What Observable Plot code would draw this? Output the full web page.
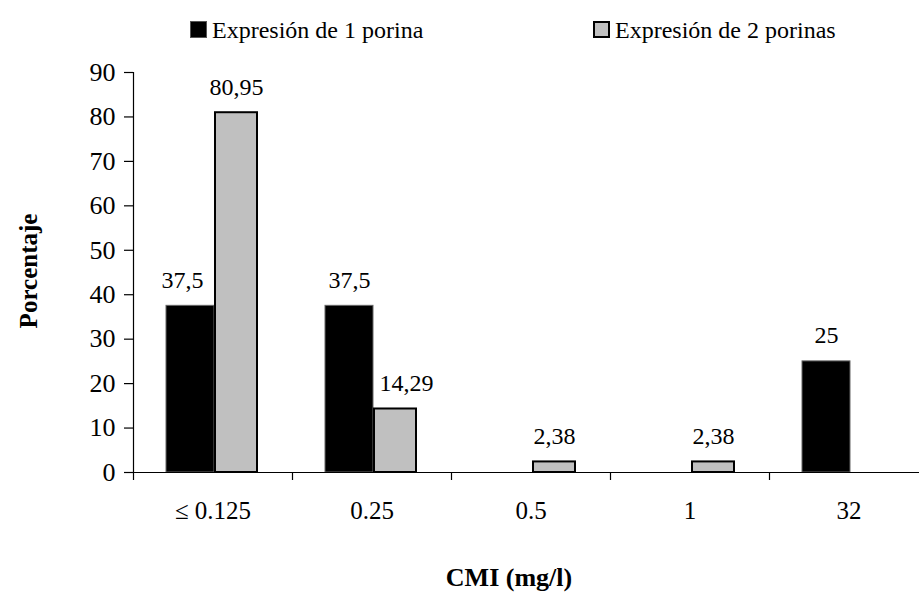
<!DOCTYPE html>
<html>
<head>
<meta charset="utf-8">
<script src="https://cdn.jsdelivr.net/npm/d3@7"></script>
<script src="https://cdn.jsdelivr.net/npm/@observablehq/plot@0.6"></script>
<style>
  html, body { margin: 0; padding: 0; background: #fff; overflow: hidden; }
  #wrap { position: relative; width: 919px; height: 592px; font-family: "Liberation Serif", "Times New Roman", serif; color: #000; }
  #wrap svg { position: absolute; left: 0; top: 0; }
  .sw { position: absolute; width: 17px; height: 17px; box-sizing: border-box; }
  .lt { position: absolute; font-size: 24px; line-height: 24px; white-space: nowrap; }
  .ttl { position: absolute; font-weight: bold; white-space: nowrap; }
</style>
</head>
<body>
<div id="wrap"></div>
<script>
// ---- data ----
const categories = ["\u2264 0.125", "0.25", "0.5", "1", "32"];
const seriesNames = ["Expresión de 1 porina", "Expresión de 2 porinas"];
const porina1 = [37.5, 37.5, 0, 0, 25];
const porina2 = [80.95, 14.29, 2.38, 2.38, 0];
const yTicks = [0, 10, 20, 30, 40, 50, 60, 70, 80, 90];
const xTitle = "CMI (mg/l)";
const yTitle = "Porcentaje";

// ---- layout ----
const W = 919, H = 592;
const mLeft = 133, plotRight = 928, mTop = 72, mBottom = 120;
const halfBand = (plotRight - mLeft) / categories.length / 2;
const fmt = v => String(v).replace(".", ",");
// small manual label nudges (pixels) as in the original chart
const nudge1 = {"\u2264 0.125": -8};
const nudge2 = {"0.25": 11};

const rows1 = categories.map((c, i) => ({cat: c, v: porina1[i]})).filter(d => d.v > 0);
const rows2 = categories.map((c, i) => ({cat: c, v: porina2[i]})).filter(d => d.v > 0);

const font = '"Liberation Serif", "Times New Roman", serif';

const labelMarks = (rows, base, nudge) =>
  rows.map(d => Plot.text([d], {x: "cat", y: "v", text: r => fmt(r.v), dx: base - halfBand + (nudge[d.cat] || 0),
    dy: -18, lineAnchor: "bottom", fontSize: 24, fill: "#000"}));

const svg = Plot.plot({
  width: W, height: H,
  marginLeft: mLeft, marginRight: W - plotRight, marginTop: mTop, marginBottom: mBottom,
  x: {domain: categories, padding: 0, axis: null, label: null},
  y: {domain: [0, 90], axis: null, label: null},
  style: {fontFamily: font, fontSize: "24px", color: "#000", background: "transparent", overflow: "visible"},
  marks: [
    Plot.barY(rows1, {x: "cat", y: "v", fill: "#000", stroke: "#666", strokeWidth: 1, insetLeft: 33, insetRight: 78}),
    Plot.barY(rows2, {x: "cat", y: "v", fill: "#c0c0c0", stroke: "#000", strokeWidth: 2, insetLeft: 82, insetRight: 35}),
    ...labelMarks(rows1, 57, nudge1),
    ...labelMarks(rows2, 103, nudge2),
    Plot.axisY({ticks: yTicks, tickSize: 9, tickPadding: 9, fontSize: 26, stroke: "#000", strokeWidth: 1.2, label: null}),
    Plot.axisX({tickSize: 0, tickPadding: 29, fontSize: 25, label: null}),
    Plot.axisX({tickSize: 8, tickFormat: () => "", dx: -halfBand, stroke: "#000", strokeWidth: 1.2, label: null}),
    Plot.frame({anchor: "left", stroke: "#000", strokeWidth: 1.2}),
    Plot.ruleY([0], {stroke: "#000", strokeWidth: 1.2})
  ]
});

const wrap = document.getElementById("wrap");
wrap.appendChild(svg);

// legend
const legendItems = [
  {name: seriesNames[0], fill: "#000", border: "1px solid #555", sx: 190, tx: 212},
  {name: seriesNames[1], fill: "#c0c0c0", border: "2px solid #000", sx: 593, tx: 615}
];
for (const it of legendItems) {
  const s = document.createElement("div");
  s.className = "sw";
  s.style.left = it.sx + "px"; s.style.top = "21px";
  s.style.background = it.fill; s.style.border = it.border;
  wrap.appendChild(s);
  const t = document.createElement("div");
  t.className = "lt";
  t.style.left = it.tx + "px"; t.style.top = "18px";
  t.textContent = it.name;
  wrap.appendChild(t);
}

// axis titles
const xt = document.createElement("div");
xt.className = "ttl";
xt.style.fontSize = "26px"; xt.style.lineHeight = "26px";
xt.style.left = "509px"; xt.style.top = "565px"; xt.style.transform = "translateX(-50%)";
xt.textContent = xTitle;
wrap.appendChild(xt);

const yt = document.createElement("div");
yt.className = "ttl";
yt.style.fontSize = "25px"; yt.style.lineHeight = "25px";
yt.style.left = "28px"; yt.style.top = "271px";
yt.style.transform = "translate(-50%, -50%) rotate(-90deg)";
yt.textContent = yTitle;
wrap.appendChild(yt);
</script>
</body>
</html>
